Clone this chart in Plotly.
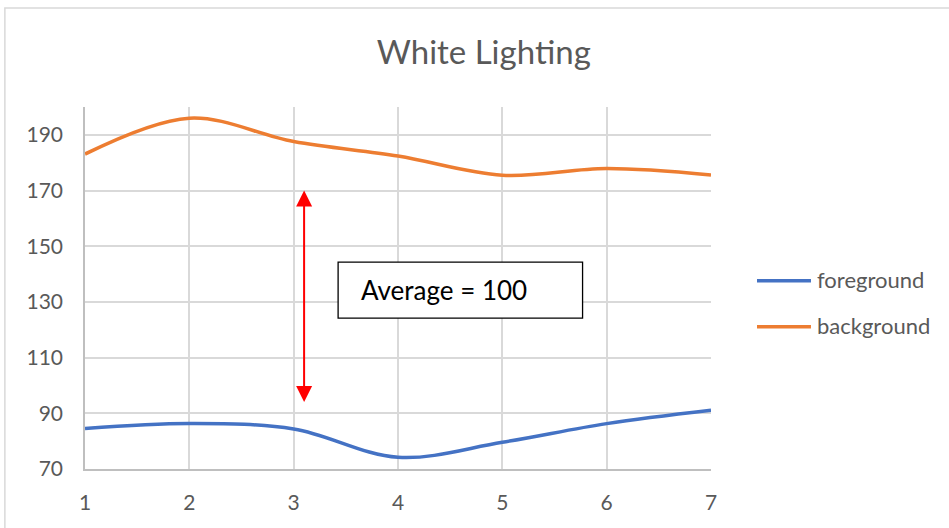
import plotly.graph_objects as go

# Measurement index and the two luminance series
x_vals = [1, 2, 3, 4, 5, 6, 7]
foreground = [84.5, 86.3, 84.4, 74.2, 79.6, 86.3, 91.1]
background = [183.1, 196.0, 187.6, 182.4, 175.5, 177.9, 175.6]
series_names = ["foreground", "background"]
series_colors = ["#4472C4", "#ED7D31"]

y_ticks = [70, 90, 110, 130, 150, 170, 190]
title_text = "White Lighting"
note_text = "Average = 100"

FONT = "Lato, Open Sans, sans-serif"
GREY_TEXT = "#595959"
GRID = "#d9d9d9"

fig = go.Figure()
for name, vals, color in zip(series_names, [foreground, background], series_colors):
    fig.add_trace(go.Scatter(
        x=x_vals, y=vals, name=name, mode="lines", showlegend=False,
        line=dict(color=color, width=3.5, shape="spline", smoothing=1.0),
    ))

# Legend drawn as line swatches with labels to the right of the plot
legend_rows = [0.5202, 0.3931]
for name, color, yrow in zip(series_names, series_colors, legend_rows):
    fig.add_shape(type="line", xref="paper", yref="paper",
                  x0=1.0735, x1=1.1597, y0=yrow, y1=yrow,
                  line=dict(color=color, width=3.5))
    fig.add_annotation(x=1.166, y=yrow + 0.004, xref="paper", yref="paper",
                       xanchor="left", yanchor="middle", text=name, showarrow=False,
                       font=dict(family=FONT, size=22, color=GREY_TEXT))

# Double-headed arrow spanning the gap between the series
fig.add_annotation(
    x=3.1, y=170, ax=3.1, ay=93.5, xref="x", yref="y", axref="x", ayref="y",
    text="", showarrow=True, arrowside="end+start", arrowhead=2,
    arrowsize=1.6, arrowwidth=2, arrowcolor="#ff0000", standoff=0, startstandoff=0,
)

# Boxed note
fig.add_shape(
    type="rect", xref="x", yref="y", x0=3.426, x1=5.769, y0=124.2, y1=144.3,
    line=dict(color="#000000", width=1.3), fillcolor="#ffffff", layer="above",
)
fig.add_annotation(
    x=3.63, y=134.3, xref="x", yref="y", xanchor="left", yanchor="middle",
    text=note_text, showarrow=False,
    font=dict(family=FONT, size=26, color="#000000"),
)

# Outer chart frame
fig.add_shape(
    type="rect", xref="paper", yref="paper", x0=-0.128, x1=1.5, y0=-0.3, y1=1.2735,
    line=dict(color=GRID, width=1.5), fillcolor="rgba(0,0,0,0)", layer="below",
)

fig.update_layout(
    width=949, height=528,
    margin=dict(l=85, r=238, t=107, b=59),
    paper_bgcolor="#ffffff", plot_bgcolor="#ffffff",
    title=dict(text=title_text, x=0.637, xref="paper", y=0.9, yref="container",
               xanchor="center", yanchor="middle",
               font=dict(family=FONT, size=33, color=GREY_TEXT)),
    font=dict(family=FONT, color=GREY_TEXT),
    showlegend=False,
)
fig.update_xaxes(
    range=[1, 7], tickvals=x_vals, showgrid=True, gridcolor=GRID, gridwidth=1.5,
    showline=True, linecolor="#bfbfbf", linewidth=1.5, zeroline=False,
    tickfont=dict(family=FONT, size=21, color=GREY_TEXT), ticks="", ticklabelstandoff=14,
)
fig.update_yaxes(
    range=[70, 200], tickvals=y_ticks, showgrid=True, gridcolor=GRID, gridwidth=1.5,
    showline=True, linecolor="#bfbfbf", linewidth=1.5, zeroline=False,
    tickfont=dict(family=FONT, size=21, color=GREY_TEXT), ticks="", ticklabelstandoff=16,
)

fig.write_html("out.html")
